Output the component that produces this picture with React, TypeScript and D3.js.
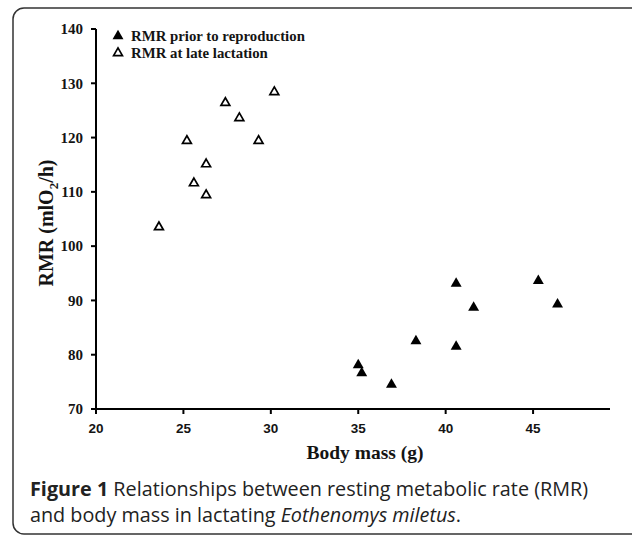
import React from "react";
import * as d3 from "d3";

const priorMass = [35.0, 35.2, 36.9, 38.3, 40.6, 40.6, 41.6, 45.3, 46.4];
const priorRMR = [78.1, 76.6, 74.5, 82.5, 93.1, 81.5, 88.7, 93.6, 89.3];
const lateMass = [23.6, 25.2, 25.6, 26.3, 26.3, 27.4, 28.2, 29.3, 30.2];
const lateRMR = [103.5, 119.4, 111.6, 115.1, 109.4, 126.4, 123.6, 119.4, 128.4];
const xTicks = [20, 25, 30, 35, 40, 45];
const yTicks = [70, 80, 90, 100, 110, 120, 130, 140];
const legendLabels = ["RMR prior to reproduction", "RMR at late lactation"];

const W = 632;
const H = 535;

export default function App() {
  const x = d3.scaleLinear().domain([20, 49.4]).range([96, 610]);
  const y = d3.scaleLinear().domain([70, 140]).range([409, 29]);
  const filledTri = d3.symbol().type(d3.symbolTriangle).size(52)()!;
  const openTri = d3.symbol().type(d3.symbolTriangle).size(34)()!;
  const serif = "'Liberation Serif', 'Times New Roman', serif";
  const sans = "'Liberation Sans', Arial, sans-serif";
  const capFont = "'Open Sans', 'Noto Sans', sans-serif";
  const ink = "#141414";

  return (
    <svg
      width={W}
      height={H}
      style={{ position: "absolute", left: 0, top: 0, background: "#fff" }}
    >
      <rect x={13} y={8} width={640} height={526} rx={11} ry={11} fill="none" stroke="#333" strokeWidth={1.5} />
      {/* axes */}
      <line x1={x(20)} x2={x(20)} y1={y(140)} y2={y(70)} stroke="#000" strokeWidth={2} />
      <line x1={x(20)} x2={x(49.4)} y1={y(70)} y2={y(70)} stroke="#000" strokeWidth={2} />
      {yTicks.map((t) => (
        <g key={"y" + t}>
          <line x1={x(20) - 5} x2={x(20)} y1={y(t)} y2={y(t)} stroke="#000" strokeWidth={2} />
          <text x={83} y={y(t)} dy="0.35em" textAnchor="end" fontFamily={serif} fontWeight="bold" fontSize={15} fill={ink}>
            {t}
          </text>
        </g>
      ))}
      {xTicks.map((t) => (
        <g key={"x" + t}>
          <line x1={x(t)} x2={x(t)} y1={y(70)} y2={y(70) + 5} stroke="#000" strokeWidth={2} />
          <text x={x(t)} y={433} textAnchor="middle" fontFamily={sans} fontWeight="bold" fontSize={13.5} fill={ink}>
            {t}
          </text>
        </g>
      ))}
      <text x={365} y={459} textAnchor="middle" fontFamily={serif} fontWeight="bold" fontSize={19.5} fill={ink}>
        Body mass (g)
      </text>
      <text transform="translate(53,223) rotate(-90)" textAnchor="middle" fontFamily={serif} fontWeight="bold" fontSize={20} fill={ink}>
        RMR (mlO<tspan fontSize={13} dy={5}>2</tspan>
        <tspan dy={-5}>/h)</tspan>
      </text>
      {/* points */}
      {priorMass.map((m, i) => (
        <path key={"p" + i} d={filledTri} transform={`translate(${x(m)},${y(priorRMR[i])})`} fill="#000" />
      ))}
      {lateMass.map((m, i) => (
        <path key={"l" + i} d={openTri} transform={`translate(${x(m)},${y(lateRMR[i])})`} fill="#fff" stroke="#000" strokeWidth={1.7} />
      ))}
      {/* legend */}
      <path d={filledTri} transform="translate(118,36)" fill="#000" />
      <text x={131} y={40.5} fontFamily={serif} fontWeight="bold" fontSize={14.8} fill={ink}>
        {legendLabels[0]}
      </text>
      <path d={openTri} transform="translate(118,53)" fill="#fff" stroke="#000" strokeWidth={1.7} />
      <text x={131} y={57.5} fontFamily={serif} fontWeight="bold" fontSize={14.8} fill={ink}>
        {legendLabels[1]}
      </text>
      {/* caption */}
      <text x={30} y={496} fontFamily={capFont} fontSize={19.8} fill="#222">
        <tspan fontWeight="bold">Figure 1</tspan> Relationships between resting metabolic rate (RMR)
      </text>
      <text x={30} y={522} fontFamily={capFont} fontSize={19.8} fill="#222">
        and body mass in lactating <tspan fontStyle="italic">Eothenomys miletus</tspan>.
      </text>
    </svg>
  );
}
